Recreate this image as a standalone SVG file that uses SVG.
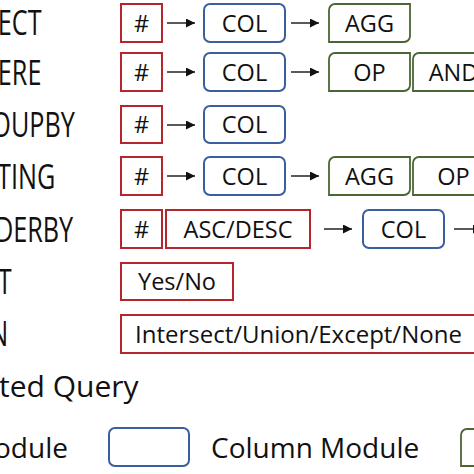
<svg xmlns="http://www.w3.org/2000/svg" width="474" height="474" viewBox="0 0 474 474">
<defs>
<marker id="ah" viewBox="0 0 10 10" refX="10" refY="5" markerWidth="10" markerHeight="9" markerUnits="userSpaceOnUse" orient="auto">
<path d="M0,0 L10,5 L0,10 Z" fill="#111"/>
</marker>
<style>
.lbl{font-family:"Open Sans","Noto Sans",sans-serif;font-size:35px;fill:#111}
.big{font-family:"Open Sans","Noto Sans",sans-serif;fill:#111}
.t{font-family:"Open Sans","Noto Sans",sans-serif;font-size:23.5px;fill:#111;text-anchor:middle}
.ts{font-family:"Open Sans","Noto Sans",sans-serif;font-size:24px;fill:#111}
.red{fill:#fff;stroke:#b3262c;stroke-width:2}
.blue{fill:#fff;stroke:#3a5f9e;stroke-width:2}
.green{fill:#fff;stroke:#4a6632;stroke-width:1.8}
.arr{stroke:#222;stroke-width:1.5;fill:none;marker-end:url(#ah)}
</style>
</defs>
<rect width="474" height="474" fill="#fff"/>
<g id="labels" transform="scale(0.72,1)">
<text class="lbl" x="-3" y="35">ECT</text>
<text class="lbl" x="-3" y="85">ERE</text>
<text class="lbl" x="-12" y="137">OUPBY</text>
<text class="lbl" x="-4" y="189">TING</text>
<text class="lbl" x="-7" y="242">DERBY</text>
<text class="lbl" x="-3" y="294">T</text>
<text class="lbl" x="-15" y="346">N</text>
</g>
<text class="big" x="-1" y="397" font-size="30">ted Query</text>
<g id="connectors">
<line class="arr" x1="167" y1="23" x2="195" y2="23"/>
<line class="arr" x1="291" y1="23" x2="319" y2="23"/>
<line class="arr" x1="167" y1="72" x2="195" y2="72"/>
<line class="arr" x1="291" y1="72" x2="319" y2="72"/>
<line class="arr" x1="167" y1="125" x2="195" y2="125"/>
<line class="arr" x1="167" y1="176" x2="195" y2="176"/>
<line class="arr" x1="291" y1="176" x2="319" y2="176"/>
<line class="arr" x1="324" y1="229" x2="352" y2="229"/>
<line class="arr" x1="454" y1="229" x2="482" y2="229"/>
</g>
<g id="row-select">
<g id="select-num"><rect class="red" x="121" y="4" width="41" height="38"/><text class="t" x="141.5" y="31.5">#</text></g>
<g id="select-col"><rect class="blue" x="204" y="4" width="81" height="38" rx="6"/><text class="t" x="244.5" y="31.5">COL</text></g>
<g id="select-agg"><path class="green" d="M329,10 A6,6 0 0 1 335,4 H410 V36 A6,6 0 0 1 404,42 H329 Z"/><text class="t" x="369.5" y="31.5">AGG</text></g>
</g>
<g id="row-where">
<g id="where-num"><rect class="red" x="121" y="53" width="41" height="38"/><text class="t" x="141.5" y="80.5">#</text></g>
<g id="where-col"><rect class="blue" x="204" y="53" width="81" height="38" rx="6"/><text class="t" x="244.5" y="80.5">COL</text></g>
<g id="where-op"><path class="green" d="M329,59 A6,6 0 0 1 335,53 H410 V85 A6,6 0 0 1 404,91 H329 Z"/><text class="t" x="369.5" y="80.5">OP</text></g>
<g id="where-and"><path class="green" d="M413,59 A6,6 0 0 1 419,53 H494 V85 A6,6 0 0 1 488,91 H413 Z"/><text class="t" x="453.5" y="80.5">AND</text></g>
</g>
<g id="row-groupby">
<g id="groupby-num"><rect class="red" x="121" y="106" width="41" height="37"/><text class="t" x="141.5" y="133">#</text></g>
<g id="groupby-col"><rect class="blue" x="204" y="106" width="81" height="37" rx="6"/><text class="t" x="244.5" y="133">COL</text></g>
</g>
<g id="row-having">
<g id="having-num"><rect class="red" x="121" y="157" width="41" height="38"/><text class="t" x="141.5" y="184.5">#</text></g>
<g id="having-col"><rect class="blue" x="204" y="157" width="81" height="38" rx="6"/><text class="t" x="244.5" y="184.5">COL</text></g>
<g id="having-agg"><path class="green" d="M329,163 A6,6 0 0 1 335,157 H410 V189 A6,6 0 0 1 404,195 H329 Z"/><text class="t" x="369.5" y="184.5">AGG</text></g>
<g id="having-op"><path class="green" d="M413,163 A6,6 0 0 1 419,157 H494 V189 A6,6 0 0 1 488,195 H413 Z"/><text class="t" x="453.5" y="184.5">OP</text></g>
</g>
<g id="row-orderby">
<g id="orderby-num"><rect class="red" x="121" y="210" width="41" height="38"/><text class="t" x="141.5" y="237.5">#</text></g>
<g id="orderby-dir"><rect class="red" x="166" y="210" width="144" height="38"/><text class="t" x="238" y="237.5">ASC/DESC</text></g>
<g id="orderby-col"><rect class="blue" x="363" y="210" width="81" height="38" rx="6"/><text class="t" x="403.5" y="237.5">COL</text></g>
</g>
<g id="row-limit">
<g id="limit-yn"><rect class="red" x="121" y="263" width="112" height="37"/><text class="t" x="177" y="290">Yes/No</text></g>
</g>
<g id="row-iuen">
<g id="iuen-op"><rect class="red" x="121" y="315" width="370" height="38"/><text class="ts" x="135" y="342.5">Intersect/Union/Except/None</text></g>
</g>
<g id="legend">
<text class="big" x="-6" y="458" font-size="28">odule</text>
<g id="legend-col"><rect class="blue" x="109" y="428" width="80" height="38" rx="6"/></g>
<text class="big" x="211" y="458" font-size="28">Column Module</text>
<g id="legend-green"><path class="green" d="M461,435 A6,6 0 0 1 467,429 H541 V460 A6,6 0 0 1 535,466 H461 Z"/></g>
</g>
</svg>
